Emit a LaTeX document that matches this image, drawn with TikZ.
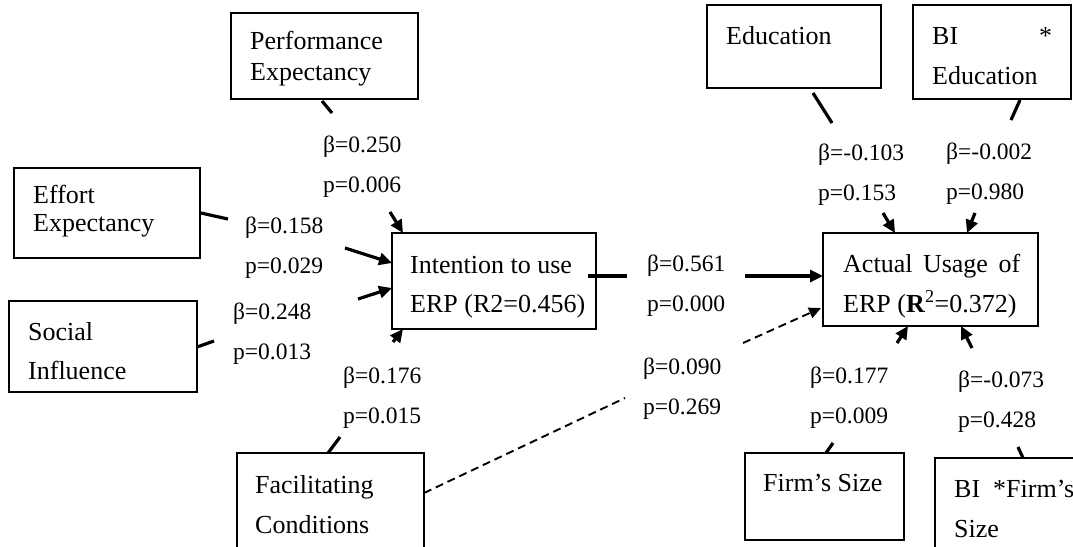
\documentclass[tikz,border=0pt]{standalone}
\usepackage{fontspec}
\setmainfont{Liberation Serif}
\usetikzlibrary{arrows.meta,fit,calc}
\tikzset{
  box/.style={draw, line width=1.4pt, inner sep=0pt, outer sep=0pt},
  txt/.style={anchor=base west, align=left, inner sep=0pt, font=\fontsize{26}{40}\selectfont},
  lbl/.style={anchor=base west, align=left, inner sep=0pt, font=\fontsize{23.5}{40}\selectfont},
  conn/.style={line width=3.2pt},
  arr/.style={line width=3.2pt, -{Triangle[length=13pt,width=12pt]}},
  dsh/.style={line width=1.9pt, dash pattern=on 8pt off 5pt},
  darr/.style={line width=1.9pt, dash pattern=on 8pt off 5pt, -{Triangle[length=12pt,width=11pt]}}
}
\newcommand{\bt}{β}
\begin{document}
\begin{tikzpicture}[x=1pt,y=-1pt]
\useasboundingbox (0,0) rectangle (1073,546);
\clip (0,0) rectangle (1073,546);
% boxes
\node[box, fit={(231,13) (418,99)}] (pe) {};
\node[box, fit={(14,168) (200,258)}] (ee) {};
\node[box, fit={(9,301) (197,392)}] (si) {};
\node[box, fit={(237,453) (424,565)}] (fc) {};
\node[box, fit={(392,233) (596,329)}] (int) {};
\node[box, fit={(823,233) (1038,326)}] (act) {};
\node[box, fit={(707,5) (881,88)}] (edu) {};
\node[box, fit={(913,5) (1071,99)}] (bie) {};
\node[box, fit={(745,453) (904,540)}] (firm) {};
\node[box, fit={(935,458) (1080,565)}] (bif) {};
% box texts (anchor = baseline of last line)
\node[txt, font=\fontsize{26}{31.5}\selectfont] (tpe) at (250,80.5) {Performance\\Expectancy};
\node[txt, font=\fontsize{26}{28}\selectfont] (tee) at (33,231) {Effort\\Expectancy};
\node[txt, font=\fontsize{26}{39}\selectfont] (tsi) at (28,379) {Social\\Influence};
\node[txt] (tfc) at (255,533) {Facilitating\\Conditions};
\node[txt, font=\fontsize{26}{39}\selectfont] (tint) at (410,312) {Intention to use\\ERP (R2=0.456)};
\node[txt] (tact) at (843,312) {\makebox[177pt][s]{Actual Usage of}\\ERP (\textbf{R}\textsuperscript{2}=0.372)};
\node[txt] (tedu) at (726,44) {Education};
\node[txt] (tbie) at (932,84) {\makebox[120pt][s]{BI *}\\Education};
\node[txt] (tfirm) at (763,491) {Firm’s Size};
\node[txt] (tbif) at (954,537) {BI\hspace{13pt}*Firm’s\\Size};
% coefficient labels
\node[lbl] (lpe) at (323,192) {\bt=0.250\\p=0.006};
\node[lbl] (lee) at (245,273) {\bt=0.158\\p=0.029};
\node[lbl] (lsi) at (233,359) {\bt=0.248\\p=0.013};
\node[lbl] (lfc) at (343,423) {\bt=0.176\\p=0.015};
\node[lbl] (lint) at (647,311) {\bt=0.561\\p=0.000};
\node[lbl] (lfca) at (643,414) {\bt=0.090\\p=0.269};
\node[lbl] (ledu) at (818,200) {\bt=-0.103\\p=0.153};
\node[lbl] (lbie) at (946,199) {\bt=-0.002\\p=0.980};
\node[lbl] (lfirm) at (810,423) {\bt=0.177\\p=0.009};
\node[lbl] (lbif) at (958,427) {\bt=-0.073\\p=0.428};
% free ends
\coordinate (pe1) at (332,113);  \coordinate (pe2) at (390,212);
\coordinate (ee1) at (228,219);  \coordinate (ee2) at (345,248);
\coordinate (si1) at (214,341);  \coordinate (si2) at (358,299);
\coordinate (fc1) at (340,437);  \coordinate (fc2) at (393,342);
\coordinate (in1) at (627,276);  \coordinate (in2) at (745,276);
\coordinate (fa1) at (625,398);  \coordinate (fa2) at (743,343);
\coordinate (ed1) at (832,123);  \coordinate (ed2) at (883,213);
\coordinate (be1) at (1011,120); \coordinate (be2) at (975,213);
\coordinate (fi1) at (833,443);  \coordinate (fi2) at (897,343);
\coordinate (bf1) at (1018,447); \coordinate (bf2) at (972,348);
% connectors
\draw[conn] ($(pe.south west)+(91,2)$) -- (pe1);
\draw[arr] (pe2) -- ($(int.north west)+(11,0)$);
\draw[conn] ($(ee.north east)+(1,45)$) -- (ee1);
\draw[arr] (ee2) -- ($(int.north west)+(0,30)$);
\draw[conn] ($(si.north east)+(0,46)$) -- (si1);
\draw[arr] (si2) -- ($(int.north west)+(0,55)$);
\draw[conn] ($(fc.north west)+(91,0)$) -- (fc1);
\draw[arr] (fc2) -- ($(int.south west)+(11,0)$);
\draw[conn] ($(int.north east)+(-8,43)$) -- (in1);
\draw[arr] (in2) -- ($(act.north west)+(0,43)$);
\draw[dsh] ($(fc.north east)+(0,40)$) -- (fa1);
\draw[darr] (fa2) -- ($(act.north west)+(-2,75)$);
\draw[conn] ($(edu.south west)+(106,5)$) -- (ed1);
\draw[arr] (ed2) -- ($(act.north west)+(72,0)$);
\draw[conn] ($(bie.south west)+(107,1)$) -- (be1);
\draw[arr] (be2) -- ($(act.north west)+(144,0)$);
\draw[conn] ($(firm.north west)+(81,0)$) -- (fi1);
\draw[arr] (fi2) -- ($(act.south west)+(85,0)$);
\draw[conn] ($(bif.north west)+(88,0)$) -- (bf1);
\draw[arr] (bf2) -- ($(act.south west)+(138,0)$);
\end{tikzpicture}
\end{document}
